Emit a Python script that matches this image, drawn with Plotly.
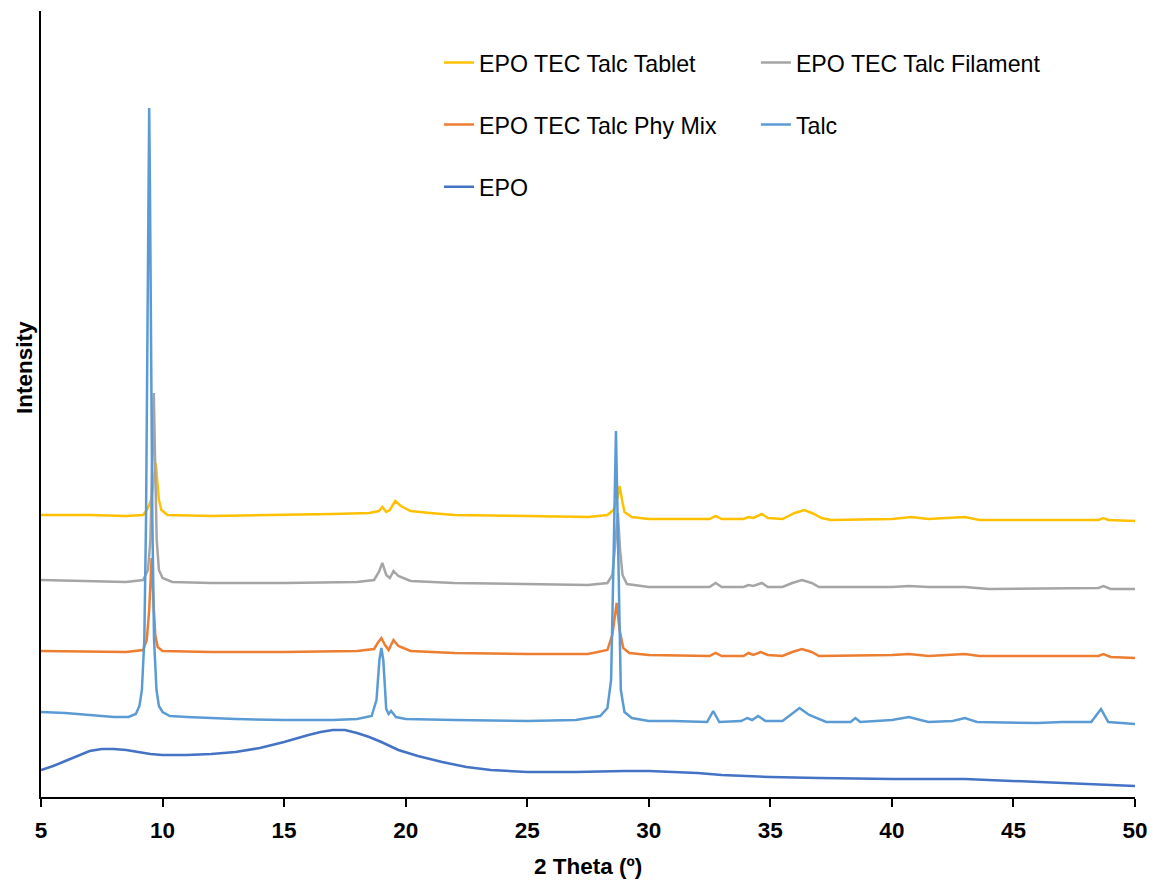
import plotly.graph_objects as go

# ---------------- data (2θ in degrees, intensity in arbitrary offset units) ----------------
tablet_x = [5.0, 7.0, 8.5, 9.2, 9.35, 9.45, 9.55, 9.65, 9.72, 9.78, 9.85, 9.95, 10.2, 12.0, 15.0, 17.0,
            18.5, 18.9, 19.04, 19.2, 19.35, 19.57, 19.8, 20.2, 21.0, 22.0, 25.0, 27.5, 28.3, 28.55, 28.7,
            28.8, 28.9, 29.0, 29.3, 30.0, 32.5, 32.75, 33.0, 33.9, 34.1, 34.3, 34.65, 34.9, 35.5, 36.0,
            36.4, 36.8, 37.1, 37.5, 40.0, 40.8, 41.5, 43.0, 43.6, 48.5, 48.7, 48.9, 50.0]
tablet_y = [282, 282, 281, 282, 287, 292, 299, 317, 334, 317, 297, 287, 282, 281, 282, 283,
            284, 286, 290, 285, 287, 296, 291, 286, 284, 282, 281, 280, 282, 287, 297,
            311, 297, 285, 280, 278, 278, 281, 278, 278, 280, 279, 283, 279, 278, 284,
            287, 283, 279, 277, 278, 280, 278, 280, 277, 277, 279, 277, 276]

filament_x = [5.0, 7.0, 8.5, 9.2, 9.4, 9.5, 9.57, 9.64, 9.7, 9.76, 9.85, 10.0, 10.4, 12.0, 15.0, 18.0,
              18.7, 18.9, 19.04, 19.2, 19.35, 19.5, 19.7, 20.2, 22.0, 25.0, 27.5, 28.3, 28.5, 28.6,
              28.73, 28.82, 28.92, 29.1, 30.0, 32.5, 32.75, 33.0, 33.9, 34.1, 34.3, 34.65, 34.9, 35.5,
              35.9, 36.3, 36.7, 37.0, 40.0, 40.7, 41.5, 43.0, 44.0, 48.5, 48.7, 49.0, 50.0]
filament_y = [217, 216, 215, 217, 227, 257, 327, 404, 327, 257, 227, 219, 215, 214, 214, 215,
              217, 225, 234, 222, 219, 226, 221, 216, 214, 213, 212, 214, 222, 247,
              284, 247, 222, 213, 210, 210, 214, 210, 210, 212, 211, 214, 210, 210,
              214, 217, 214, 210, 210, 211, 210, 210, 208, 209, 211, 208, 208]

phymix_x = [5.0, 7.0, 8.5, 9.2, 9.35, 9.45, 9.55, 9.62, 9.7, 9.8, 10.0, 12.0, 15.0, 18.0, 18.7, 18.85,
            19.0, 19.15, 19.3, 19.5, 19.7, 20.2, 22.0, 25.0, 27.5, 28.3, 28.5, 28.68, 28.8, 28.95, 29.2,
            30.0, 32.5, 32.75, 33.0, 33.9, 34.1, 34.3, 34.6, 34.9, 35.5, 35.9, 36.3, 36.7, 37.0, 40.0,
            40.7, 41.5, 43.0, 43.6, 48.5, 48.7, 49.0, 50.0]
phymix_y = [146, 145, 145, 147, 157, 187, 239, 197, 162, 150, 146, 145, 145, 146, 148, 154,
            159, 152, 147, 157, 151, 146, 144, 143, 143, 147, 162, 194, 167, 149, 144,
            142, 141, 144, 141, 141, 144, 142, 145, 142, 141, 145, 148, 145, 141, 142,
            143, 141, 143, 141, 141, 143, 140, 139]

talc_x = [5.0, 6.0, 7.0, 8.0, 8.6, 8.9, 9.05, 9.15, 9.25, 9.32, 9.38, 9.42, 9.45, 9.48, 9.52, 9.58,
          9.65, 9.75, 9.85, 10.0, 10.3, 11.0, 13.0, 15.0, 17.0, 18.0, 18.6, 18.8, 18.92, 19.0, 19.08,
          19.2, 19.3, 19.4, 19.6, 20.0, 22.0, 25.0, 27.0, 28.0, 28.3, 28.45, 28.55, 28.65, 28.75,
          28.85, 29.0, 29.3, 30.0, 31.0, 32.4, 32.65, 32.9, 33.8, 34.05, 34.25, 34.5, 34.8, 35.5,
          35.9, 36.2, 36.6, 37.3, 38.3, 38.5, 38.7, 40.0, 40.7, 41.5, 42.5, 43.0, 43.5, 46.0, 47.0,
          48.2, 48.6, 48.9, 50.0]
talc_y = [85, 84, 82, 80, 80, 83, 91, 107, 157, 277, 467, 617, 689, 617, 467, 277,
          157, 107, 91, 85, 81, 80, 78, 77, 77, 78, 81, 97, 137, 149, 137,
          88, 83, 86, 80, 78, 77, 76, 77, 81, 89, 117, 237, 366, 237,
          107, 85, 79, 76, 76, 75, 86, 75, 76, 79, 77, 81, 76, 76,
          83, 89, 82, 75, 75, 79, 75, 77, 80, 75, 76, 79, 75, 74, 75,
          75, 88, 75, 73]

epo_x = [5.0, 5.5, 6.0, 6.5, 7.0, 7.5, 8.0, 8.5, 9.0, 9.5, 10.0, 11.0, 12.0, 13.0, 14.0, 15.0, 16.0,
         16.5, 17.0, 17.5, 18.0, 18.5, 19.0, 19.7, 20.5, 21.5, 22.5, 23.5, 25.0, 27.0, 29.0, 30.0,
         31.0, 32.0, 33.0, 35.0, 37.0, 40.0, 43.0, 45.0, 47.0, 50.0]
epo_y = [27, 31, 36, 41, 46, 48, 48, 47, 45, 43, 42, 42, 43, 45, 49, 55, 62,
         65, 67, 67, 64, 60, 55, 47, 41, 35, 30, 27, 25, 25, 26, 26,
         25, 24, 22, 20, 19, 18, 18, 16, 14, 11]

series_names = ["EPO TEC Talc Tablet", "EPO TEC Talc Filament", "EPO TEC Talc Phy Mix", "Talc", "EPO"]
series_colors = ["#FFC000", "#A5A5A5", "#ED7D31", "#5B9BD5", "#4472C4"]
series_legend = ["legend", "legend2", "legend", "legend2", "legend"]
series_x = [tablet_x, filament_x, phymix_x, talc_x, epo_x]
series_y = [tablet_y, filament_y, phymix_y, talc_y, epo_y]

x_ticks = [5, 10, 15, 20, 25, 30, 35, 40, 45, 50]
x_title = "2 Theta (º)"
y_title = "Intensity"

FONT = "Liberation Sans, Arial, sans-serif"

fig = go.Figure()
for name, col, lg, xs, ys in zip(series_names, series_colors, series_legend, series_x, series_y):
    fig.add_trace(go.Scatter(x=xs, y=ys, mode="lines", name=name, legend=lg, legendgroup=name,
                             line=dict(color=col, width=2.5)))

legend_common = dict(font=dict(family=FONT, size=23.2, color="#000000"), bgcolor="rgba(0,0,0,0)",
                     borderwidth=0, tracegroupgap=29, traceorder="grouped",
                     xanchor="left", yanchor="top", orientation="v")
fig.update_layout(
    width=1143, height=872,
    margin=dict(l=33, r=14, t=3, b=83),
    paper_bgcolor="white", plot_bgcolor="white",
    font=dict(family=FONT, color="#000000"),
    legend=dict(x=0.362 + 2 / 1096, y=0.962, **legend_common),
    legend2=dict(x=0.648 + 6 / 1096, y=0.962, **legend_common),
    xaxis=dict(range=[5, 50], tickvals=x_ticks, ticks="outside", ticklen=8, tickwidth=1.5,
               tickcolor="#000000", showline=True, linecolor="#000000", linewidth=1.5,
               showgrid=False, zeroline=False,
               tickfont=dict(family=FONT, size=22.5, color="#000000", weight="bold"),
               ticklabelstandoff=4),
    yaxis=dict(range=[0, 786], showline=True, linecolor="#000000", linewidth=1.5,
               showticklabels=False, ticks="", showgrid=False, zeroline=False),
    annotations=[
        dict(text=x_title, xref="paper", yref="paper", x=0.5, y=(797 - 866) / 786,
             xanchor="center", yanchor="middle", showarrow=False,
             font=dict(family=FONT, size=22.5, color="#000000", weight="bold")),
        dict(text=y_title, xref="paper", yref="paper", x=(24 - 41) / 1096, y=(797 - 368) / 786,
             xanchor="center", yanchor="middle", showarrow=False, textangle=-90,
             font=dict(family=FONT, size=22.5, color="#000000", weight="bold")),
    ],
)

fig.write_html("out.html")
